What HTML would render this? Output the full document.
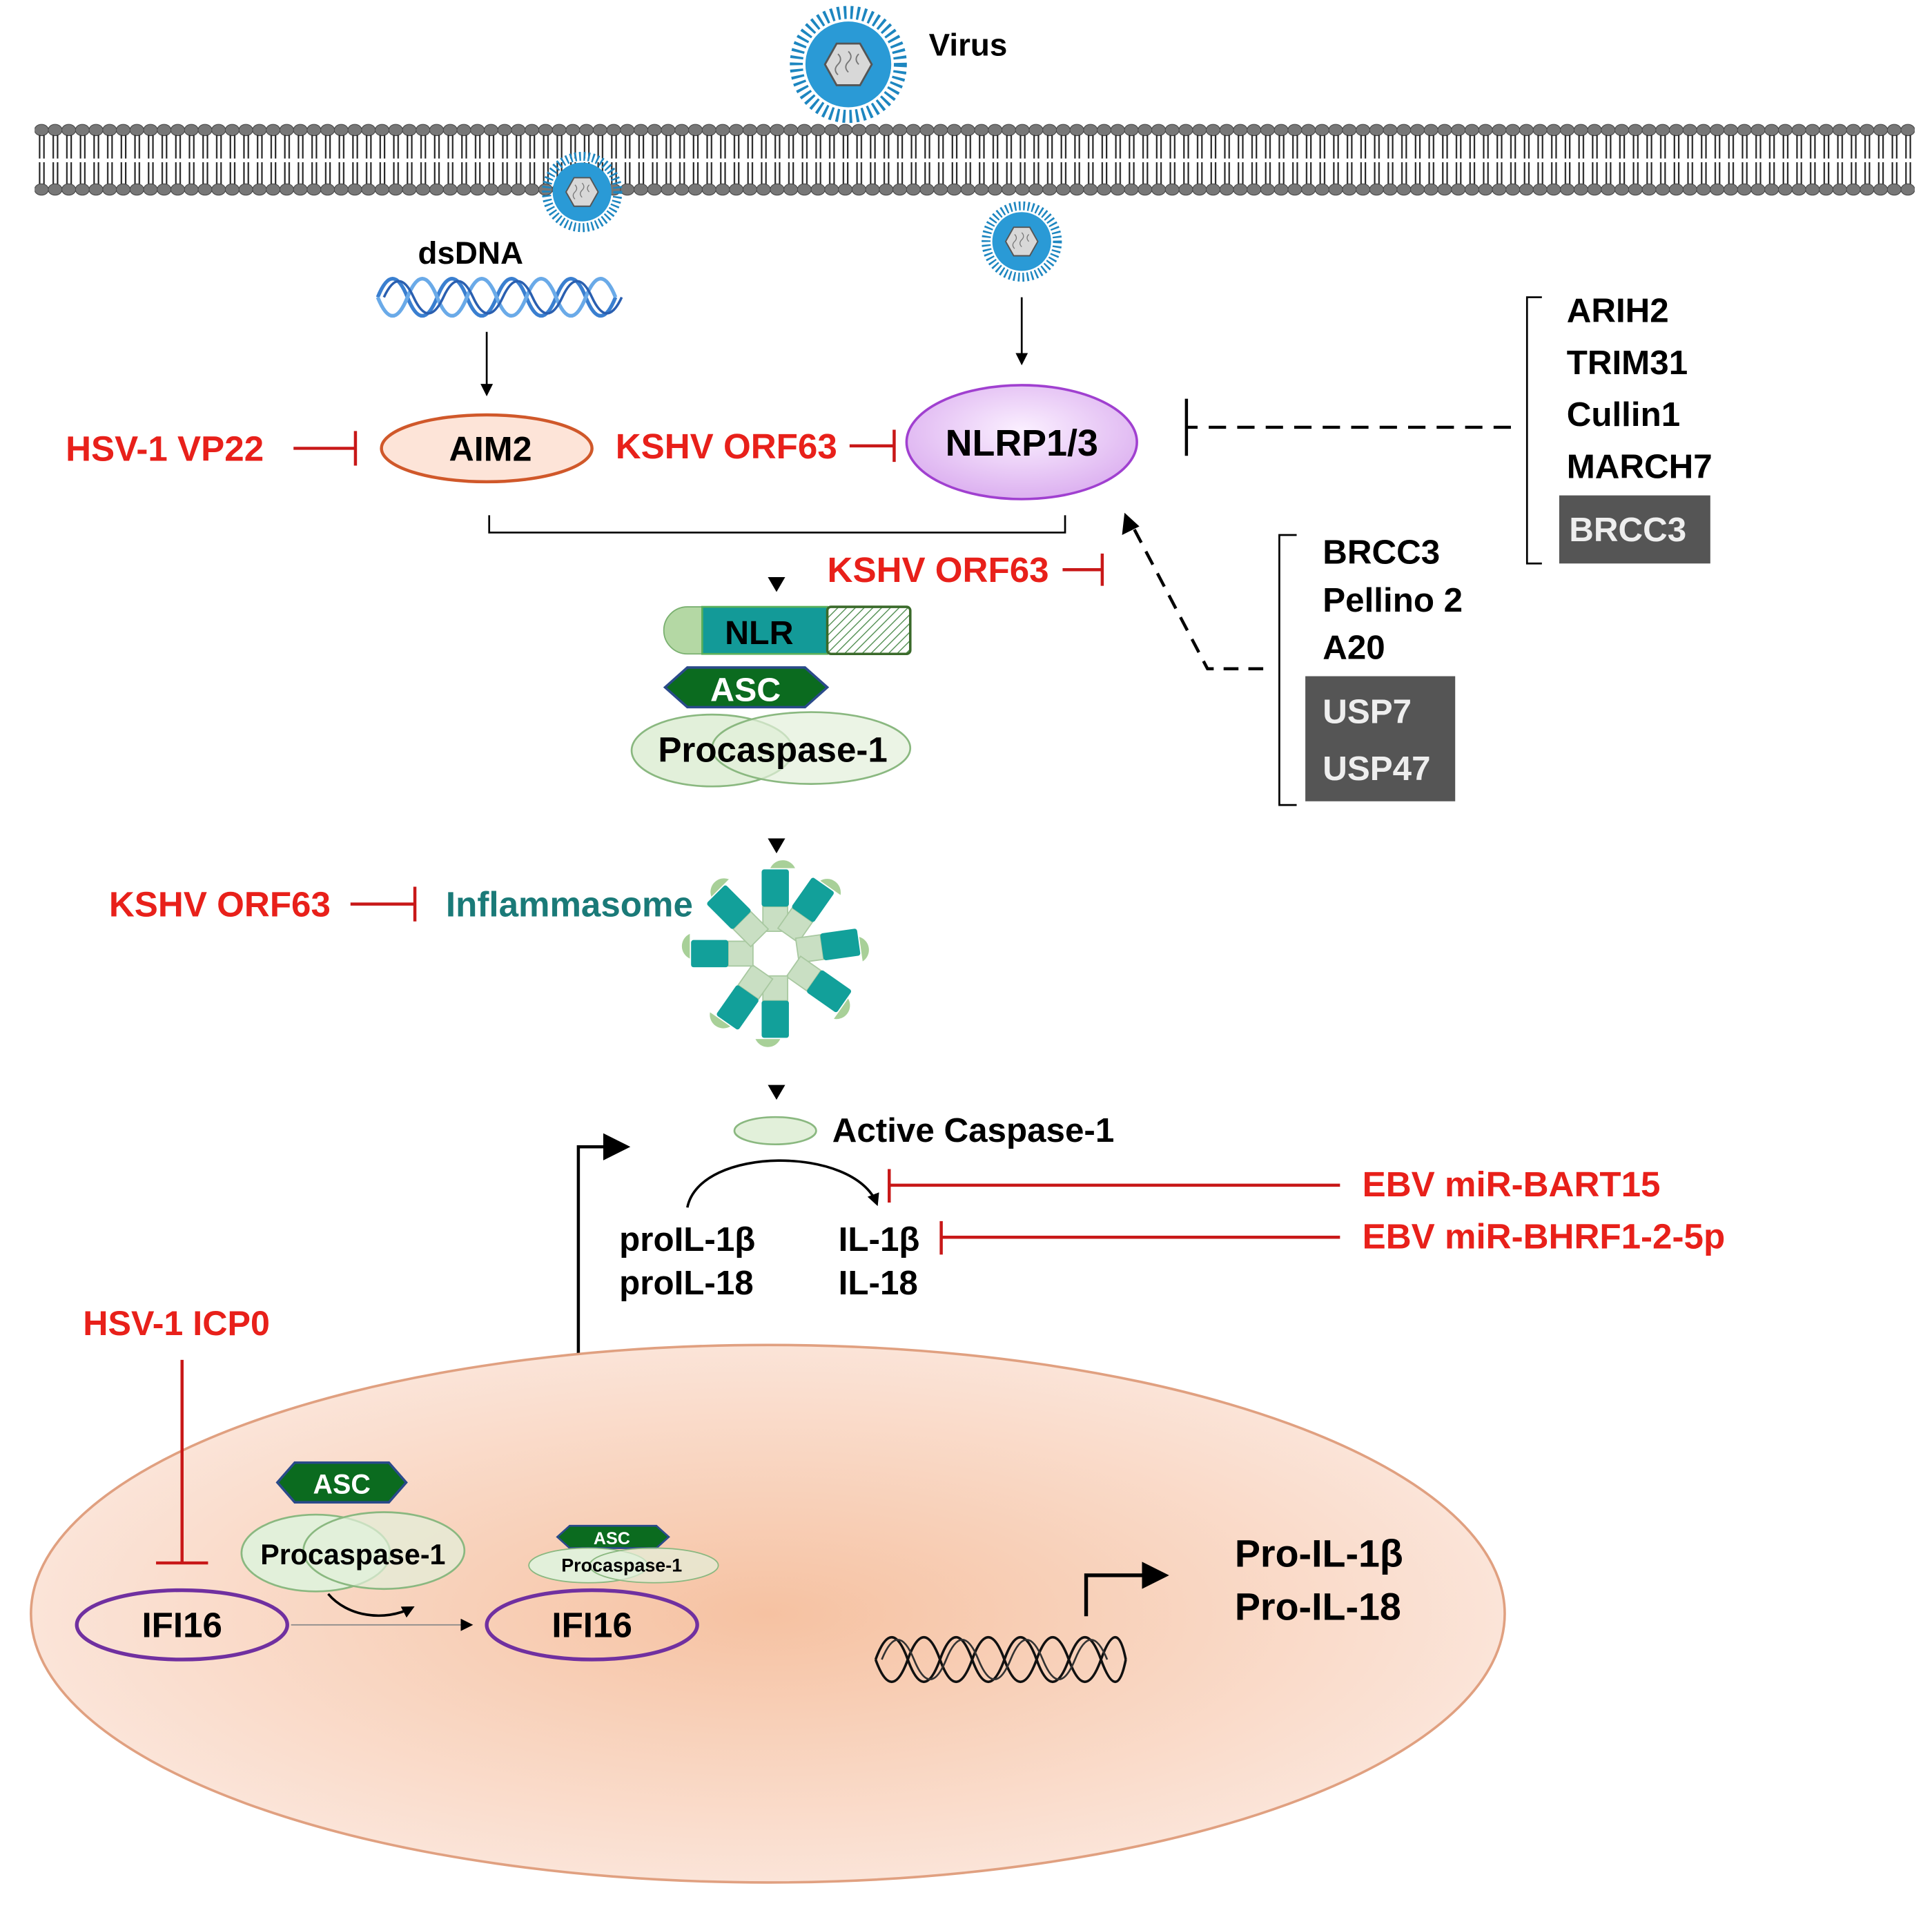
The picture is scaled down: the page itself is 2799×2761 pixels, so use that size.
<!DOCTYPE html>
<html><head><meta charset="utf-8"><style>html,body{margin:0;padding:0;background:#fff}svg{display:block}text{font-family:"Liberation Sans",Arial,sans-serif;font-weight:bold}</style></head><body>
<svg width="2799" height="2761" viewBox="0 0 1560 1539" preserveAspectRatio="none" xmlns="http://www.w3.org/2000/svg">
<defs>
<pattern id="mem" x="28" y="0" width="11" height="1539" patternUnits="userSpaceOnUse">
<ellipse cx="5.5" cy="105" rx="5.6" ry="4.6" fill="#777" stroke="#444" stroke-width="0.6"/>
<line x1="4" y1="109" x2="4" y2="128" stroke="#222" stroke-width="1.2"/>
<line x1="7.5" y1="109" x2="7.5" y2="128" stroke="#222" stroke-width="1.2"/>
<line x1="4" y1="131" x2="4" y2="149" stroke="#222" stroke-width="1.2"/>
<line x1="7.5" y1="131" x2="7.5" y2="149" stroke="#222" stroke-width="1.2"/>
<ellipse cx="5.5" cy="153" rx="5.6" ry="4.6" fill="#777" stroke="#444" stroke-width="0.6"/>
</pattern>
<pattern id="hatch" width="5" height="5" patternUnits="userSpaceOnUse" patternTransform="rotate(45)">
<rect width="5" height="5" fill="#fff"/><line x1="0" y1="0" x2="0" y2="5" stroke="#4a8a4a" stroke-width="1.5"/>
</pattern>
<radialGradient id="nuc" cx="0.5" cy="0.5" r="0.5">
<stop offset="0" stop-color="#f6c2a2"/><stop offset="1" stop-color="#fbe4d8"/>
</radialGradient>
<radialGradient id="nlrp" cx="0.5" cy="0.4" r="0.6">
<stop offset="0" stop-color="#fbf0ff"/><stop offset="1" stop-color="#dcb0f0"/>
</radialGradient>
<g id="virus">
<circle r="40" fill="none" stroke="#1d86c0" stroke-width="10" stroke-dasharray="2 3"/>
<circle r="33" fill="#2a9ad6"/>
<polygon points="-18,0 -9,-16 9,-16 18,0 9,16 -9,16" fill="#d8d8d8" stroke="#555" stroke-width="1.5"/>
<path d="M-8,-8 q4,4 0,8 q-4,4 0,8 M0,-10 q4,4 0,8 q-4,4 0,8 M8,-8 q-4,4 0,8" stroke="#777" fill="none" stroke-width="1"/>
</g>
<g id="arm">
<rect x="-10" y="-38" width="20" height="20" fill="#c9dfc3" stroke="#a8c8a0"/>
<rect x="-11" y="-68" width="22" height="30" rx="2" fill="#12a09a"/>
<path d="M-4,-69 a11,11 0 0 1 20,0 z" fill="#a8d098"/>
</g>
<marker id="ah" markerWidth="10" markerHeight="10" refX="8" refY="5" orient="auto" markerUnits="userSpaceOnUse"><path d="M0,0 L10,5 L0,10 z" fill="#000"/></marker>
<marker id="ahb" markerWidth="22" markerHeight="22" refX="18" refY="11" orient="auto" markerUnits="userSpaceOnUse"><path d="M0,0 L22,11 L0,22 z" fill="#000"/></marker>
</defs>

<!-- membrane -->
<rect x="28" y="95" width="1518" height="65" fill="url(#mem)"/>

<!-- viruses -->
<use href="#virus" transform="translate(685,52) scale(1.05)"/>
<text x="750" y="45" font-size="25.5">Virus</text>
<use href="#virus" transform="translate(470,155) scale(0.72)"/>
<use href="#virus" transform="translate(825,195) scale(0.72)"/>

<!-- dsDNA -->
<text x="380" y="213" font-size="25.5" text-anchor="middle">dsDNA</text>
<path d="M305,240 q12,-30 24,0 t24,0 t24,0 t24,0 t24,0 t24,0 t24,0 t24,0" stroke="#3a7fd0" stroke-width="3" fill="none"/>
<path d="M305,240 q12,30 24,0 t24,0 t24,0 t24,0 t24,0 t24,0 t24,0 t24,0" stroke="#6aaae8" stroke-width="3" fill="none"/>
<path d="M310,240 q12,-26 24,0 t24,0 t24,0 t24,0 t24,0 t24,0 t24,0 t24,0" stroke="#2a5fb0" stroke-width="2" fill="none"/>
<line x1="393" y1="268" x2="393" y2="318" stroke="#000" stroke-width="1.5" marker-end="url(#ah)"/>
<line x1="825" y1="240" x2="825" y2="293" stroke="#000" stroke-width="1.5" marker-end="url(#ah)"/>

<!-- AIM2 row -->
<text x="53" y="372" font-size="28.5" fill="#e8201a">HSV-1 VP22</text>
<line x1="237" y1="362" x2="287" y2="362" stroke="#c81818" stroke-width="2.5"/>
<line x1="287" y1="348" x2="287" y2="376" stroke="#c81818" stroke-width="2.5"/>
<ellipse cx="393" cy="362" rx="85" ry="27" fill="#fde4d8" stroke="#d0582a" stroke-width="2.5"/>
<text x="396" y="372" font-size="28" text-anchor="middle">AIM2</text>
<text x="497" y="370" font-size="28.5" fill="#e8201a">KSHV ORF63</text>
<line x1="686" y1="360" x2="722" y2="360" stroke="#c81818" stroke-width="2.5"/>
<line x1="722" y1="347" x2="722" y2="373" stroke="#c81818" stroke-width="2.5"/>
<ellipse cx="825" cy="357" rx="93" ry="46" fill="url(#nlrp)" stroke="#a040d0" stroke-width="2"/>
<text x="825" y="368" font-size="30" text-anchor="middle">NLRP1/3</text>

<path d="M395,416 V430 H860 V416" stroke="#000" stroke-width="1.5" fill="none"/>
<text x="668" y="470" font-size="28.5" fill="#e8201a">KSHV ORF63</text>
<line x1="858" y1="460" x2="890" y2="460" stroke="#c81818" stroke-width="2.5"/>
<line x1="890" y1="447" x2="890" y2="473" stroke="#c81818" stroke-width="2.5"/>
<path d="M620,466 h14 l-7,12 z" fill="#000"/>

<!-- NLR construct -->
<path d="M567,490 h-12 a19,19 0 0 0 0,38 h12 z" fill="#b4d8a4" stroke="#7ab070"/>
<rect x="567" y="490" width="101" height="38" fill="#139a98" stroke="#5ab05a" stroke-width="1.5"/>
<rect x="668" y="490" width="67" height="38" rx="3" fill="url(#hatch)" stroke="#3a6a2a" stroke-width="2"/>
<text x="613" y="520" font-size="27" text-anchor="middle">NLR</text>
<polygon points="537,555 555,539 650,539 668,555 650,571 555,571" fill="#0b6b1f" stroke="#2a4a8a" stroke-width="2"/>
<text x="602" y="566" font-size="27" fill="#fff" text-anchor="middle">ASC</text>
<ellipse cx="575" cy="606" rx="65" ry="29" fill="#e2f0da" stroke="#8ab880" stroke-width="1.5"/>
<ellipse cx="655" cy="604" rx="80" ry="29" fill="#e2f0da" fill-opacity="0.7" stroke="#8ab880" stroke-width="1.5"/>
<text x="624" y="615" font-size="28.5" text-anchor="middle">Procaspase-1</text>
<path d="M620,677 h14 l-7,12 z" fill="#000"/>

<!-- inflammasome -->
<text x="88" y="740" font-size="28.5" fill="#e8201a">KSHV ORF63</text>
<line x1="283" y1="730" x2="335" y2="730" stroke="#c81818" stroke-width="2.5"/>
<line x1="335" y1="716" x2="335" y2="744" stroke="#c81818" stroke-width="2.5"/>
<text x="360" y="740" font-size="28.5" fill="#1a7a78">Inflammasome</text>
<g transform="translate(626,770)">
<use href="#arm" transform="rotate(0)"/>
<use href="#arm" transform="rotate(35)"/>
<use href="#arm" transform="rotate(82)"/>
<use href="#arm" transform="rotate(125)"/>
<use href="#arm" transform="rotate(180)"/>
<use href="#arm" transform="rotate(215)"/>
<use href="#arm" transform="rotate(270)"/>
<use href="#arm" transform="rotate(315)"/>
</g>
<path d="M620,876 h14 l-7,12 z" fill="#000"/>

<!-- active caspase -->
<ellipse cx="626" cy="913" rx="33" ry="11" fill="#e2f0da" stroke="#8ab880" stroke-width="1.5"/>
<text x="672" y="922" font-size="27.5">Active Caspase-1</text>
<path d="M467,1193 V926 H505" stroke="#000" stroke-width="2.5" fill="none" marker-end="url(#ahb)"/>
<path d="M555,975 C565,925 690,925 708,972" stroke="#000" stroke-width="2" fill="none" marker-end="url(#ah)"/>
<line x1="1082" y1="957" x2="718" y2="957" stroke="#c81818" stroke-width="2.5"/>
<line x1="718" y1="944" x2="718" y2="971" stroke="#c81818" stroke-width="2.5"/>
<text x="1100" y="966" font-size="28.5" fill="#e8201a">EBV miR-BART15</text>
<line x1="1082" y1="999" x2="760" y2="999" stroke="#c81818" stroke-width="2.5"/>
<line x1="760" y1="986" x2="760" y2="1013" stroke="#c81818" stroke-width="2.5"/>
<text x="1100" y="1008" font-size="28.5" fill="#e8201a">EBV miR-BHRF1-2-5p</text>
<text x="500" y="1010" font-size="27.5">proIL-1β</text>
<text x="500" y="1045" font-size="27.5">proIL-18</text>
<text x="677" y="1010" font-size="27.5">IL-1β</text>
<text x="677" y="1045" font-size="27.5">IL-18</text>

<!-- nucleus -->
<ellipse cx="620" cy="1303" rx="595" ry="217" fill="url(#nuc)" stroke="#e0a080" stroke-width="2"/>
<text x="67" y="1078" font-size="28" fill="#e8201a">HSV-1 ICP0</text>
<line x1="147" y1="1098" x2="147" y2="1262" stroke="#c81818" stroke-width="2.5"/>
<line x1="126" y1="1262" x2="168" y2="1262" stroke="#c81818" stroke-width="2.5"/>
<ellipse cx="147" cy="1312" rx="85" ry="28" fill="none" stroke="#7030a0" stroke-width="3"/>
<text x="147" y="1322" font-size="28.5" text-anchor="middle">IFI16</text>
<polygon points="224,1197 238,1181 314,1181 328,1197 314,1213 238,1213" fill="#0b6b1f" stroke="#2a4a8a" stroke-width="2"/>
<text x="276" y="1206" font-size="22" fill="#fff" text-anchor="middle">ASC</text>
<ellipse cx="255" cy="1254" rx="60" ry="31" fill="#e2f0da" stroke="#8ab880" stroke-width="1.5"/>
<ellipse cx="310" cy="1252" rx="65" ry="31" fill="#e2f0da" fill-opacity="0.7" stroke="#8ab880" stroke-width="1.5"/>
<text x="285" y="1263" font-size="23" text-anchor="middle">Procaspase-1</text>
<path d="M265,1287 C280,1305 310,1310 333,1298" stroke="#000" stroke-width="2" fill="none" marker-end="url(#ah)"/>
<line x1="235" y1="1312" x2="380" y2="1312" stroke="#888" stroke-width="1" marker-end="url(#ah)"/>
<polygon points="450,1241 460,1232 530,1232 540,1241 530,1250 460,1250" fill="#0b6b1f" stroke="#2a4a8a" stroke-width="1.5"/>
<text x="494" y="1247" font-size="14" fill="#fff" text-anchor="middle">ASC</text>
<ellipse cx="475" cy="1264" rx="48" ry="14" fill="#e2f0da" stroke="#8ab880"/>
<ellipse cx="528" cy="1264" rx="52" ry="14" fill="#e2f0da" fill-opacity="0.7" stroke="#8ab880"/>
<text x="502" y="1269" font-size="15" text-anchor="middle">Procaspase-1</text>
<ellipse cx="478" cy="1312" rx="85" ry="28" fill="none" stroke="#7030a0" stroke-width="3"/>
<text x="478" y="1322" font-size="28.5" text-anchor="middle">IFI16</text>

<!-- nuclear DNA -->
<path d="M707,1340 q13,-36 26,0 t26,0 t26,0 t26,0 t26,0 t26,0 t26,0 t20,0" stroke="#111" stroke-width="2" fill="none"/>
<path d="M707,1340 q13,36 26,0 t26,0 t26,0 t26,0 t26,0 t26,0 t26,0 t20,0" stroke="#111" stroke-width="2" fill="none"/>
<path d="M712,1340 q13,-32 26,0 t26,0 t26,0 t26,0 t26,0 t26,0 t26,0" stroke="#333" stroke-width="1.5" fill="none"/>
<path d="M877,1305 V1272 H940" stroke="#000" stroke-width="3" fill="none" marker-end="url(#ahb)"/>
<text x="997" y="1265" font-size="31">Pro-IL-1β</text>
<text x="997" y="1308" font-size="31">Pro-IL-18</text>

<!-- right lists -->
<path d="M1245,240 H1233 V455 H1245" stroke="#000" stroke-width="1.5" fill="none"/>
<text x="1265" y="260" font-size="27.5">ARIH2</text>
<text x="1265" y="302" font-size="27.5">TRIM31</text>
<text x="1265" y="344" font-size="27.5">Cullin1</text>
<text x="1265" y="386" font-size="27.5">MARCH7</text>
<rect x="1259" y="400" width="122" height="55" fill="#555"/>
<text x="1267" y="437" font-size="27.5" fill="#eee">BRCC3</text>
<line x1="1220" y1="345" x2="958" y2="345" stroke="#000" stroke-width="2.5" stroke-dasharray="14 9"/>
<line x1="958" y1="322" x2="958" y2="368" stroke="#000" stroke-width="2.5"/>

<path d="M1047,432 H1033 V650 H1047" stroke="#000" stroke-width="1.5" fill="none"/>
<text x="1068" y="455" font-size="27.5">BRCC3</text>
<text x="1068" y="494" font-size="27.5">Pellino 2</text>
<text x="1068" y="532" font-size="27.5">A20</text>
<rect x="1054" y="546" width="121" height="101" fill="#555"/>
<text x="1068" y="584" font-size="27.5" fill="#eee">USP7</text>
<text x="1068" y="630" font-size="27.5" fill="#eee">USP47</text>
<path d="M1020,540 H975 L912,420" stroke="#000" stroke-width="2.5" stroke-dasharray="12 8" fill="none"/>
<path d="M908,414 L906,432 L920,425 z" fill="#000"/>
</svg>
</body></html>
